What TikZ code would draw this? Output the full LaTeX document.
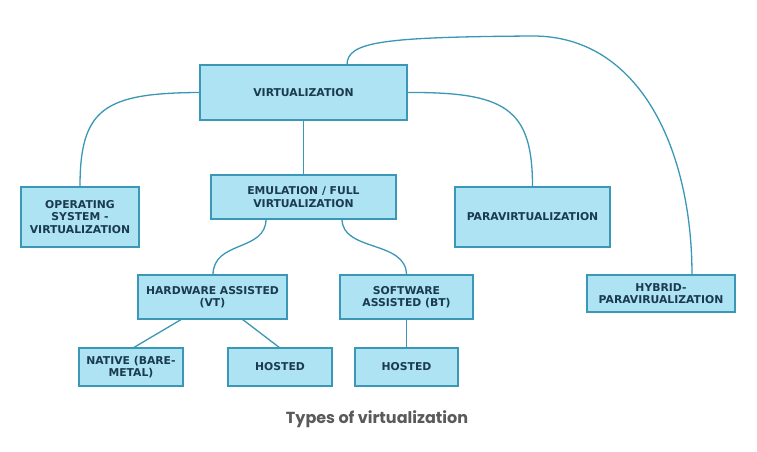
\documentclass[tikz,border=0pt]{standalone}
\usepackage{fontspec}
\setmainfont{DejaVu Sans}
\newfontfamily\capfont{Poppins}
\definecolor{boxfill}{HTML}{AEE3F3}
\definecolor{boxline}{HTML}{3A98B6}
\definecolor{boxtext}{HTML}{1A3A4E}
\definecolor{captext}{HTML}{5A5A5A}
\tikzset{
  vbox/.style={draw=boxline, fill=boxfill, line width=1.3pt, align=center, inner sep=0pt,
    font=\fontsize{10.8}{12.5}\selectfont\bfseries, text=boxtext},
  link/.style={draw=boxline, line width=1.3pt}
}
\begin{document}
\begin{tikzpicture}[x=1pt,y=-1pt]
\useasboundingbox (0,0) rectangle (757,452);
\fill[white] (0,0) rectangle (757,452);
\node[vbox, minimum width=207pt, minimum height=55pt] (virt) at (303.5,92.5) {VIRTUALIZATION};
\node[vbox, minimum width=118pt, minimum height=60pt] (os) at (80,217) {OPERATING\\SYSTEM -\\VIRTUALIZATION};
\node[vbox, minimum width=185pt, minimum height=44pt] (emu) at (303.5,197) {EMULATION / FULL\\VIRTUALIZATION};
\node[vbox, minimum width=155pt, minimum height=60pt] (para) at (532.5,217) {PARAVIRTUALIZATION};
\node[vbox, minimum width=148pt, minimum height=37pt] (hyb) at (661,293.5) {HYBRID-\\PARAVIRUALIZATION};
\node[vbox, minimum width=149pt, minimum height=44pt] (hw) at (212.5,297) {HARDWARE ASSISTED\\(VT)};
\node[vbox, minimum width=133pt, minimum height=44pt] (sw) at (406.5,297) {SOFTWARE\\ASSISTED (BT)};
\node[vbox, minimum width=104pt, minimum height=38pt] (nat) at (131,367) {NATIVE (BARE-\\METAL)};
\node[vbox, minimum width=104pt, minimum height=38pt] (ho1) at (280,367) {HOSTED};
\node[vbox, minimum width=103pt, minimum height=38pt] (ho2) at (406.5,367) {HOSTED};

\coordinate (vt) at (347,65);
\coordinate (hybtop) at (692,275);
\coordinate (emuL) at (266,219);
\coordinate (emuR) at (342,219);
\coordinate (hwT) at (213,275);
\coordinate (swT) at (406.5,275);
\coordinate (hwB1) at (182,319);
\coordinate (hwB2) at (242,319);
\coordinate (natT) at (133,348);
\coordinate (ho1T) at (280,348);

\draw[link] (virt.west) .. controls (105,93) and (80,108) .. (os.north);
\draw[link] (virt.east) .. controls (505,92) and (532.5,108) .. (para.north);
\draw[link] (virt.south) -- (emu.north);
\draw[link] (vt) .. controls (347,42) and (380,37) .. (533,36) .. controls (640,36) and (692,150) .. (hybtop);
\draw[link] (emuL) .. controls (266,252) and (213,240) .. (hwT);
\draw[link] (emuR) .. controls (342,252) and (406.5,240) .. (swT);
\draw[link] (hwB1) -- (natT);
\draw[link] (hwB2) -- (ho1T);
\draw[link] (sw.south) -- (ho2.north);

\node[font=\capfont\bfseries\fontsize{16}{19}\selectfont, text=captext] (cap) at (377,419) {Types of virtualization};
\end{tikzpicture}
\end{document}
